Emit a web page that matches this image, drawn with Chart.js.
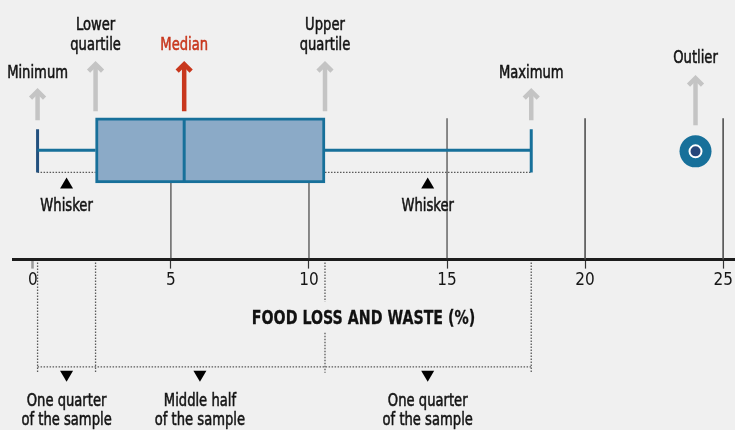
<!DOCTYPE html>
<html>
<head>
<meta charset="utf-8">
<script src="https://cdn.jsdelivr.net/npm/chart.js@4.4.1/dist/chart.umd.min.js"></script>
<style>
  html, body { margin: 0; padding: 0; background: #f0f0f0; }
  #wrap { width: 735px; height: 430px; }
</style>
</head>
<body>
<div id="wrap"><canvas id="boxChart"></canvas></div>
<script>
// summary of the sample: minimum, lower quartile, median, upper quartile, maximum
const statLabels = [['Minimum'], ['Lower', 'quartile'], ['Median'], ['Upper', 'quartile'], ['Maximum']];
const statValues = [0.17, 2.27, 5.48, 10.58, 18.05];
const outlierValues = [24.0];
const outlierLabel = 'Outlier';
const tickValues = [0, 5, 10, 15, 20, 25];
const axisTitle = 'FOOD LOSS AND WASTE (%)';
const whiskerLabels = ['Whisker', 'Whisker'];
const whiskerMarks = [1.22, 14.3];
const shareLabels = [['One quarter', 'of the sample'], ['Middle half', 'of the sample'], ['One quarter', 'of the sample']];
const shareMarks = [1.22, 6.05, 14.3];

const FONT = "'DejaVu Sans', sans-serif";
const TICK_FONT = "'DejaVu Sans Condensed', 'DejaVu Sans', sans-serif";
const NARROW = 0.71;   // horizontal squeeze to mimic a condensed face
const TEAL = '#17709a';
const GREY_ARROW = '#c4c4c4';
const RED = '#c8371d';
const INK = '#141414';

// vertical layout (y scale runs 0..AXIS, top to bottom)
const BOX_TOP = 118, BOX_BOTTOM = 182, MID = 150, CAP_TOP = 129, CAP_BOTTOM = 172, AXIS = 259;
const labelY = [73, 25, 45, 25, 73];
const arrowTip = [88, 61, 61, 61, 88];
const arrowEnd = [120, 111, 111, 111, 120];

const [vMin, vQ1, vMed, vQ3, vMax] = statValues;

function text(ctx, str, x, y, size, color, weight) {
  ctx.save();
  ctx.font = (weight || 'normal') + ' ' + size + 'px ' + FONT;
  ctx.fillStyle = color;
  ctx.strokeStyle = color;
  ctx.lineWidth = weight ? 0.3 : 0.6;
  ctx.textAlign = 'center';
  ctx.textBaseline = 'middle';
  ctx.translate(x, y);
  ctx.scale(NARROW, 1);
  ctx.fillText(str, 0, 0);
  ctx.strokeText(str, 0, 0);
  ctx.restore();
}

function arrow(ctx, x, tip, end, color) {
  ctx.save();
  ctx.strokeStyle = color;
  ctx.lineWidth = 4.5;
  ctx.lineCap = 'butt';
  ctx.lineJoin = 'miter';
  ctx.beginPath();
  ctx.moveTo(x, end);
  ctx.lineTo(x, tip + 3);
  ctx.stroke();
  ctx.beginPath();
  ctx.moveTo(x - 7, tip + 10);
  ctx.lineTo(x, tip + 3);
  ctx.lineTo(x + 7, tip + 10);
  ctx.stroke();
  ctx.restore();
}

function triangle(ctx, x, top, up) {
  ctx.fillStyle = '#000';
  ctx.beginPath();
  if (up) {
    ctx.moveTo(x, top); ctx.lineTo(x + 6.5, top + 11); ctx.lineTo(x - 6.5, top + 11);
  } else {
    ctx.moveTo(x - 6.5, top); ctx.lineTo(x + 6.5, top); ctx.lineTo(x, top + 11);
  }
  ctx.closePath();
  ctx.fill();
}

function dotted(ctx, x1, y1, x2, y2) {
  ctx.save();
  ctx.strokeStyle = '#5a5a5a';
  ctx.lineWidth = 1.3;
  ctx.setLineDash([1.5, 1.5]);
  ctx.beginPath();
  ctx.moveTo(x1, y1);
  ctx.lineTo(x2, y2);
  ctx.stroke();
  ctx.restore();
}

const notes = {
  id: 'notes',
  beforeDraw(chart) {
    const ctx = chart.ctx;
    ctx.save();
    ctx.fillStyle = '#f0f0f0';
    ctx.fillRect(0, 0, chart.width, chart.height);
    ctx.restore();
  },
  beforeDatasetsDraw(chart) {
    const ctx = chart.ctx, xs = chart.scales.x, ys = chart.scales.y;
    const X = v => xs.getPixelForValue(v), Y = v => ys.getPixelForValue(v);
    ctx.save();
    tickValues.forEach(v => {
      if (v === 0) return;
      const top = (v > vQ1 && v < vQ3) ? BOX_BOTTOM : BOX_TOP;
      ctx.strokeStyle = v >= 20 ? '#505050' : '#333';
      ctx.lineWidth = v >= 20 ? 1.6 : 1.1;
      ctx.beginPath();
      ctx.moveTo(X(v), Y(top));
      ctx.lineTo(X(v), Y(AXIS));
      ctx.stroke();
    });
    ctx.restore();
    // dotted guides under the whiskers
    dotted(ctx, X(vMin), Y(CAP_BOTTOM), X(vQ1), Y(CAP_BOTTOM));
    dotted(ctx, X(vQ3), Y(CAP_BOTTOM), X(vMax), Y(CAP_BOTTOM));
  },
  afterDatasetsDraw(chart) {
    const ctx = chart.ctx, xs = chart.scales.x, ys = chart.scales.y;
    const X = v => xs.getPixelForValue(v), Y = v => ys.getPixelForValue(v);

    // labels and arrows above the box
    statValues.forEach((v, i) => {
      const color = i === 2 ? RED : INK;
      statLabels[i].forEach((line, j) => text(ctx, line, X(v), Y(labelY[i] + j * 20), 18.5, color));
      arrow(ctx, X(v), Y(arrowTip[i]), Y(arrowEnd[i]), i === 2 ? RED : GREY_ARROW);
    });
    outlierValues.forEach(v => {
      text(ctx, outlierLabel, X(v), Y(58), 18.5, INK);
      arrow(ctx, X(v), Y(75), Y(125), GREY_ARROW);
    });

    // whisker notes
    whiskerLabels.forEach((lab, i) => {
      triangle(ctx, X(whiskerMarks[i]), Y(177), true);
      text(ctx, lab, X(whiskerMarks[i]), Y(206), 18.5, INK);
    });

    // axis title
    text(ctx, axisTitle, chart.width / 2 - 4, Y(318), 20, '#111', 'bold');

    // brackets below the axis
    [0, 1, 3, 4].forEach(i => {
      const x = X(statValues[i]);
      if (i === 3) {
        dotted(ctx, x, Y(AXIS + 3), x, Y(301));
        dotted(ctx, x, Y(332), x, Y(372));
      } else {
        dotted(ctx, x, Y(AXIS + 3), x, Y(372));
      }
    });
    dotted(ctx, X(vMin), Y(366), X(vMax), Y(366));
    shareLabels.forEach((lines, i) => {
      const x = X(shareMarks[i]);
      triangle(ctx, x, Y(370), false);
      lines.forEach((line, j) => text(ctx, line, x, Y(400 + j * 19), 18.5, INK));
    });
  }
};

const lineStyle = { type: 'line', pointRadius: 0, borderWidth: 3, borderColor: TEAL, fill: false };

new Chart(document.getElementById('boxChart'), {
  type: 'scatter',
  data: {
    datasets: [
      Object.assign({}, lineStyle, { label: 'Median', order: 0,
        data: [{ x: vMed, y: BOX_TOP + 1 }, { x: vMed, y: BOX_BOTTOM - 1 }] }),
      { type: 'scatter', label: 'Outlier core', order: 0, pointRadius: 6, backgroundColor: '#26467a',
        borderColor: '#ffffff', borderWidth: 2, data: outlierValues.map(v => ({ x: v, y: MID + 1 })) },
      { type: 'scatter', label: 'Outlier', order: 1, pointRadius: 16, backgroundColor: TEAL,
        borderWidth: 0, data: outlierValues.map(v => ({ x: v, y: MID + 1 })) },
      Object.assign({}, lineStyle, { label: 'Lower whisker', order: 1,
        data: [{ x: vMin, y: MID }, { x: vQ1, y: MID }] }),
      Object.assign({}, lineStyle, { label: 'Upper whisker', order: 1,
        data: [{ x: vQ3, y: MID }, { x: vMax, y: MID }] }),
      Object.assign({}, lineStyle, { label: 'Minimum', order: 1, borderColor: '#22507e',
        data: [{ x: vMin, y: CAP_TOP }, { x: vMin, y: CAP_BOTTOM }] }),
      Object.assign({}, lineStyle, { label: 'Maximum', order: 1,
        data: [{ x: vMax, y: CAP_TOP }, { x: vMax, y: CAP_BOTTOM }] }),
      { type: 'bar', label: 'Interquartile range', order: 2, indexAxis: 'y',
        data: [{ x: [vQ1, vQ3], y: MID }],
        backgroundColor: '#8baac7', borderColor: TEAL, borderWidth: 3, borderSkipped: false, barThickness: 65 }
    ]
  },
  options: {
    responsive: true,
    maintainAspectRatio: false,
    animation: false,
    layout: { autoPadding: false, padding: { left: 13, right: 0, top: 0, bottom: 137 } },
    plugins: { legend: { display: false }, tooltip: { enabled: false } },
    scales: {
      x: {
        type: 'linear',
        min: -0.72,
        max: 25.43,
        afterBuildTicks: scale => { scale.ticks = tickValues.map(v => ({ value: v })); },
        ticks: { font: { family: TICK_FONT, size: 17 }, color: '#161616', padding: 2, autoSkip: false, maxRotation: 0 },
        grid: {
          drawOnChartArea: false,
          drawTicks: true,
          tickLength: 9,
          tickColor: c => (c.tick && c.tick.value === 0) ? '#9a9a9a' : '#333',
          tickWidth: c => (c.tick && c.tick.value === 0) ? 2.5 : 1.2
        },
        border: { display: true, color: '#1c1c1c', width: 3 }
      },
      y: { type: 'linear', min: 0, max: AXIS, reverse: true, offset: false, display: false }
    }
  },
  plugins: [notes]
});
</script>
</body>
</html>
